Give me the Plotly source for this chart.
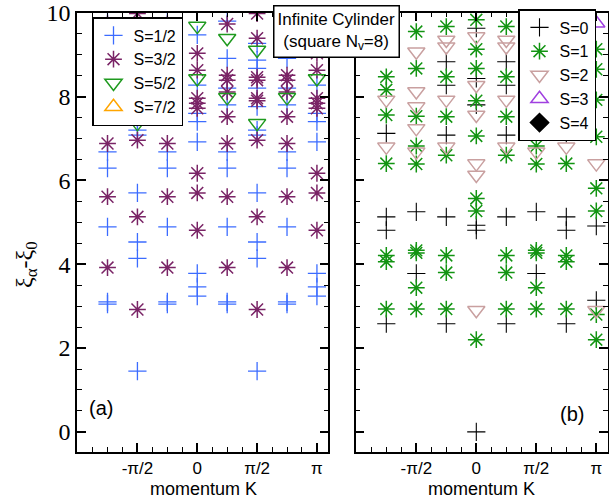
import plotly.graph_objects as go

# ---------------- data (K in units of pi, energies xi_alpha - xi_0) ----------------
# panel (a)
a_s12_k = [0]*8 + [1]*8 + [0.25]*9 + [-0.25]*9 + [0.75]*9 + [-0.75]*9 + [0.5]*11 + [-0.5]*11
a_s12_E = [3.24, 3.46, 3.78, 6.92, 7.40, 7.60, 8.27, 9.47,
           3.24, 3.46, 3.78, 6.92, 7.40, 7.60, 8.27, 9.47,
           3.05, 3.10, 4.89, 6.29, 6.68, 7.80, 8.20, 8.91, 9.80,
           3.05, 3.10, 4.89, 6.29, 6.68, 7.80, 8.20, 8.91, 9.80,
           3.05, 3.10, 4.89, 6.29, 6.68, 7.80, 8.20, 8.91, 9.80,
           3.05, 3.10, 4.89, 6.29, 6.68, 7.80, 8.20, 8.91, 9.80,
           1.45, 4.14, 4.53, 5.70, 7.08, 7.20, 7.76, 8.20, 8.67, 8.87, 9.27,
           1.45, 4.14, 4.53, 5.70, 7.08, 7.20, 7.76, 8.20, 8.67, 8.87, 9.27]

a_s32_k = [0]*8 + [1]*8 + [0.25]*8 + [-0.25]*8 + [0.75]*8 + [-0.75]*8 + [0.5]*9 + [-0.5]*9
a_s32_E = [4.81, 5.70, 6.17, 7.72, 7.84, 7.96, 8.63, 9.03,
           4.81, 5.70, 6.17, 7.72, 7.84, 7.96, 8.63, 9.03,
           3.92, 5.61, 6.88, 7.52, 8.11, 8.39, 8.51, 9.73,
           3.92, 5.61, 6.88, 7.52, 8.11, 8.39, 8.51, 9.73,
           3.92, 5.61, 6.88, 7.52, 8.11, 8.39, 8.51, 9.73,
           3.92, 5.61, 6.88, 7.52, 8.11, 8.39, 8.51, 9.73,
           2.92, 5.13, 6.96, 7.90, 7.96, 8.39, 8.46, 9.39, 9.98,
           2.92, 5.13, 6.96, 7.90, 7.96, 8.39, 8.46, 9.39, 9.98]

a_s52_k = [0, 0, 1, 1, 0.25, 0.25, -0.25, -0.25, 0.75, 0.75, -0.75, -0.75, 0.5, 0.5, -0.5, -0.5]
a_s52_E = [8.43, 9.68, 8.43, 9.68, 7.98, 9.39, 7.98, 9.39, 7.98, 9.39, 7.98, 9.39, 7.36, 9.11, 7.36, 9.11]

# no S=7/2 level falls inside the plotted window
a_s72_k = [None]
a_s72_E = [None]

# panel (b)
b_s0_k = [0]*6 + [0.25]*5 + [-0.25]*5 + [0.5]*2 + [-0.5]*2 + [0.75]*4 + [-0.75]*4 + [1]*2
b_s0_E = [0.0, 4.81, 4.93, 7.80, 8.43, 9.63,
          2.58, 5.13, 7.08, 8.27, 8.83,
          2.58, 5.13, 7.08, 8.27, 8.83,
          3.78, 5.25,
          3.78, 5.25,
          2.58, 4.81, 5.13, 7.12,
          2.58, 4.81, 5.13, 7.12,
          3.14, 4.91]

b_s1_k = [0]*8 + [0.25]*7 + [-0.25]*7 + [0.5]*9 + [-0.5]*9 + [0.75]*7 + [-0.75]*7 + [1]*8
b_s1_E = [2.20, 5.27, 5.57, 7.06, 7.90, 8.67, 9.13, 9.83,
          2.93, 3.80, 4.21, 6.60, 7.52, 8.47, 9.67,
          2.93, 3.80, 4.21, 6.60, 7.52, 8.47, 9.67,
          2.93, 3.44, 4.27, 4.33, 6.39, 6.82, 7.53, 8.67, 9.55,
          2.93, 3.44, 4.27, 4.33, 6.39, 6.82, 7.53, 8.67, 9.55,
          2.93, 4.06, 4.21, 6.40, 7.56, 8.16, 8.47,
          2.93, 4.06, 4.21, 6.40, 7.56, 8.16, 8.47,
          2.20, 2.80, 5.27, 5.81, 7.04, 7.92, 8.65, 9.13]

b_s2_k = [0]*6 + [0.25]*4 + [-0.25]*4 + [0.5]*5 + [-0.5]*5 + [0.75]*2 + [-0.75]*2 + [1]*2
b_s2_E = [2.90, 6.13, 6.40, 7.56, 8.27, 9.43,
          6.80, 7.92, 9.19, 9.35,
          6.80, 7.92, 9.19, 9.35,
          6.68, 7.24, 7.76, 8.12, 9.07,
          6.68, 7.24, 7.76, 8.12, 9.07,
          6.80, 7.92,
          6.80, 7.92,
          2.90, 6.40]

b_s3_k = [1]
b_s3_E = [9.75]

# no S=4 level falls inside the plotted window
b_s4_k = [None]
b_s4_E = [None]

x_tickvals = [-0.5, 0, 0.5, 1]
x_ticktext = ["-\u03c0/2", "0", "\u03c0/2", "\u03c0"]
y_tickvals = [0, 2, 4, 6, 8, 10]

# ---------------- figure ----------------
fig = go.Figure()

def add(k, E, name, symbol, color, size, xa, ya, legend, lw=1.5):
    fig.add_trace(go.Scatter(
        x=k, y=E, mode="markers", name=name, xaxis=xa, yaxis=ya, legend=legend,
        showlegend=True,
        marker=dict(symbol=symbol, size=size, color=color,
                    line=dict(color=color, width=lw)),
    ))

add(a_s12_k, a_s12_E, "S=1/2", "cross-thin-open", "#3c6cff", 13, "x", "y", "legend", 1.3)
add(a_s32_k, a_s32_E, "S=3/2", "asterisk-open", "#7a2466", 14, "x", "y", "legend")
add(a_s52_k, a_s52_E, "S=5/2", "triangle-down-open", "#1f9a1f", 15, "x", "y", "legend")
add(a_s72_k, a_s72_E, "S=7/2", "triangle-up-open", "#ffa500", 15, "x", "y", "legend")

add(b_s0_k, b_s0_E, "S=0", "cross-thin-open", "#000000", 13, "x2", "y2", "legend2", 1.1)
add(b_s1_k, b_s1_E, "S=1", "asterisk-open", "#129412", 14, "x2", "y2", "legend2")
add(b_s2_k, b_s2_E, "S=2", "triangle-down-open", "#c9a0a0", 15, "x2", "y2", "legend2")
add(b_s3_k, b_s3_E, "S=3", "triangle-up-open", "#a040e0", 15, "x2", "y2", "legend2")
add(b_s4_k, b_s4_E, "S=4", "diamond", "#000000", 14, "x2", "y2", "legend2")

W, H = 609, 500
ytop, ybot = 12.7, 452.0
yd = [1 - ybot / H, 1 - ytop / H]

xcommon = dict(
    range=[-1.005, 1.095], tickvals=x_tickvals, ticktext=x_ticktext,
    ticks="inside", ticklen=9, tickwidth=1.5, tickcolor="black",
    showline=True, linecolor="black", linewidth=1.5, mirror="allticks",
    showgrid=False, zeroline=False, automargin=False,
    tickfont=dict(family="Liberation Sans, Arial", size=17, color="black"),
    minor=dict(ticks="inside", dtick=0.125, tick0=0, ticklen=5, tickwidth=1.2,
               tickcolor="black", showgrid=False),
)
ycommon = dict(
    range=[-0.48, 10.0], tickvals=y_tickvals,
    ticks="inside", ticklen=9, tickwidth=1.5, tickcolor="black",
    showline=True, linecolor="black", linewidth=1.5, mirror="allticks",
    showgrid=False, zeroline=False, automargin=False,
    tickfont=dict(family="Liberation Serif, Times New Roman", size=24, color="black"),
    minor=dict(ticks="inside", dtick=0.5, tick0=0, ticklen=5, tickwidth=1.2,
               tickcolor="black", showgrid=False),
)

def label(text, xpx, ypx, size, family="Liberation Sans, Arial", angle=0):
    return dict(text=text, x=xpx / W, y=1 - ypx / H, xref="paper", yref="paper",
                xanchor="center", yanchor="middle", showarrow=False, textangle=angle,
                font=dict(family=family, size=size, color="black"))

fig.update_layout(
    width=W, height=H,
    margin=dict(l=0, r=0, t=0, b=0, autoexpand=False),
    paper_bgcolor="white", plot_bgcolor="white",
    showlegend=True,
    xaxis=dict(domain=[77 / W, 328.3 / W], anchor="y", **xcommon),
    yaxis=dict(domain=yd, anchor="x", **ycommon),
    xaxis2=dict(domain=[355.7 / W, 607.7 / W], anchor="y2", **xcommon),
    yaxis2=dict(domain=yd, anchor="x2", showticklabels=False, **ycommon),
    legend=dict(x=92 / W, y=1 - 17 / H, xanchor="left", yanchor="top",
                bgcolor="white", bordercolor="black", borderwidth=1.5,
                font=dict(family="Liberation Sans, Arial", size=16, color="black"),
                itemwidth=30, tracegroupgap=0),
    legend2=dict(x=596 / W, y=1 - 9 / H, xanchor="right", yanchor="top",
                 bgcolor="white", bordercolor="black", borderwidth=1.5,
                 font=dict(family="Liberation Sans, Arial", size=16, color="black"),
                 itemwidth=30, tracegroupgap=0),
    annotations=[
        dict(text="Infinite Cylinder<br>(square N<sub>v</sub>=8)", x=336 / W, y=1 - 5 / H,
             xref="paper", yref="paper", xanchor="center", yanchor="top", showarrow=False,
             bgcolor="white", bordercolor="black", borderwidth=1.5, borderpad=3,
             font=dict(family="Liberation Sans, Arial", size=17, color="black")),
        label("(a)", 101, 408, 20),
        label("(b)", 572, 414, 20),
        label("momentum K", 203, 489, 18),
        label("momentum K", 481, 489, 18),
        label("\u03be<sub>\u03b1</sub>-\u03be<sub>0</sub>", 26, 265, 24,
              family="Liberation Serif, Times New Roman", angle=-90),
    ],
)

fig.write_html("out.html",
               config={"displayModeBar": False},
               post_script="document.body.style.margin='0';document.body.style.padding='0';")
